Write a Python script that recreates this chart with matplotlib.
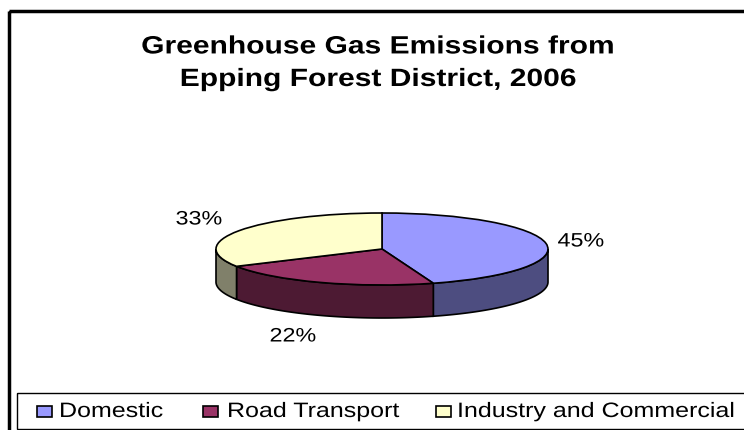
import numpy as np
import matplotlib
matplotlib.use("Agg")
import matplotlib.pyplot as plt
from matplotlib.patches import Rectangle
from matplotlib.patheffects import AbstractPathEffect
from matplotlib.transforms import Affine2D

# ---- data ----
categories = ["Domestic", "Road Transport", "Industry and Commercial"]
values = [45, 22, 33]
pct_labels = ["45%", "22%", "33%"]
title = "Greenhouse Gas Emissions from\nEpping Forest District, 2006"

# ---- style ----
top_colors = ["#9999FF", "#993366", "#FFFFCC"]
side_colors = ["#4D4D80", "#4D1A33", "#80806A"]
FONT = "Liberation Sans"
W, H = 744, 431
SX = 1.2  # horizontal stretch of the reference's lettering

# layout (pixels)
pie_cx, pie_cy, pie_rx, pie_ry, pie_depth = 382, 250, 166, 36, 33
label_pos = [(581, 243), (293, 338), (199, 221)]
key_x = [37, 203, 436]
text_x = [59, 227, 457]


class Stretch(AbstractPathEffect):
    def __init__(self, sx=1.0, anchor="center"):
        super().__init__()
        self.sx = sx
        self.anchor = anchor

    def draw_path(self, renderer, gc, tpath, affine, rgbFace=None):
        if self.anchor == "center" and len(tpath.vertices):
            ext = tpath.get_extents()
            c = 0.5 * (ext.x0 + ext.x1)
        else:
            c = 0.0
        st = Affine2D().translate(-c, 0).scale(self.sx, 1).translate(c, 0)
        renderer.draw_path(gc, tpath, st + affine, rgbFace)


fig = plt.figure(figsize=(W / 100, H / 100), dpi=100)

# base axes in pixel coordinates
base = fig.add_axes([0, 0, 1, 1], zorder=0)
base.set_xlim(0, W)
base.set_ylim(H, 0)
base.axis("off")

# chart border
base.add_patch(Rectangle((9, 12), W + 20, H + 20, fill=False, lw=2.5,
                         edgecolor="black", clip_on=False))

# title
base.text(378, 87, title, ha="center", va="baseline", fontsize=18,
          fontweight="bold", family=FONT, linespacing=1.45,
          path_effects=[Stretch(SX, "center")])

# legend
base.add_patch(Rectangle((17, 394), W + 20, 36, fill=False, lw=1.0,
                         edgecolor="black", clip_on=False))
for i, cat in enumerate(categories):
    base.add_patch(Rectangle((key_x[i], 407), 15, 11, facecolor=top_colors[i],
                             edgecolor="black", lw=1.2))
    base.text(text_x[i], 418, cat, ha="left", va="baseline", fontsize=15,
              family=FONT, path_effects=[Stretch(SX, "left")])

# percentage labels
for i, lab in enumerate(pct_labels):
    base.text(label_pos[i][0], label_pos[i][1], lab, ha="center", va="center",
              fontsize=14, family=FONT, path_effects=[Stretch(SX, "center")])

# pie axes: unit circle maps to the ellipse
pa = fig.add_axes([0, 0, 1, 1], zorder=1)
pa.patch.set_alpha(0)
depth = pie_depth / pie_ry

vals = np.array(values, dtype=float)
frac = vals / vals.sum()
cum = np.concatenate([[0], np.cumsum(frac)])
starts = 90 - 360 * cum[:-1]
ends = 90 - 360 * cum[1:]

# sides (front half only: angles in [-180, 0])
for i in range(len(vals)):
    a = max(ends[i], -180)
    b = min(starts[i], 0)
    if b <= a:
        continue
    t = np.deg2rad(np.linspace(a, b, 80))
    xs = np.cos(t)
    ys = np.sin(t)
    px = np.concatenate([xs, xs[::-1]])
    py = np.concatenate([ys, ys[::-1] - depth])
    pa.fill(px, py, facecolor=side_colors[i], edgecolor="black", lw=1.2,
            zorder=1)

pa.pie(vals, colors=top_colors, startangle=90, counterclock=False, radius=1,
       wedgeprops=dict(edgecolor="black", linewidth=1.2, zorder=2))
pa.set_aspect("auto")
pa.set_xlim(-pie_cx / pie_rx, (W - pie_cx) / pie_rx)
pa.set_ylim((pie_cy - H) / pie_ry, pie_cy / pie_ry)
pa.axis("off")

fig.savefig("out.png", dpi=100)
